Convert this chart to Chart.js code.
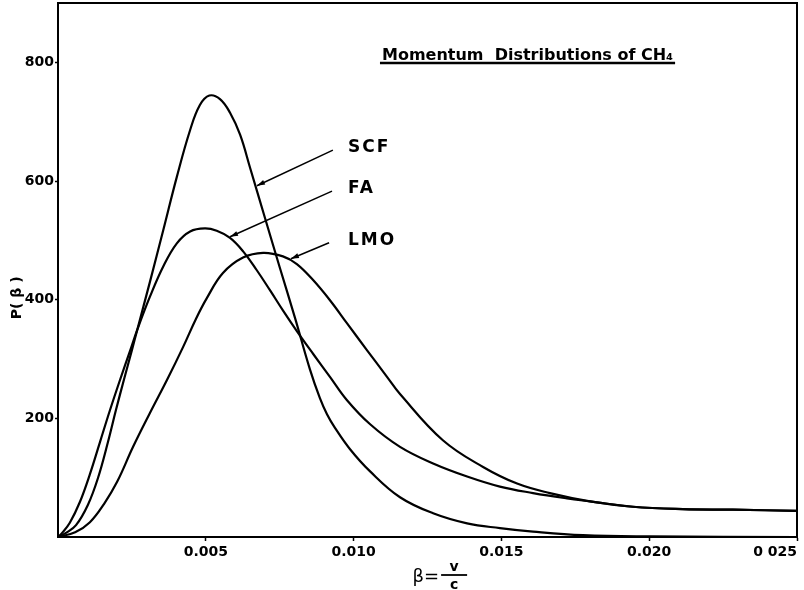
<!DOCTYPE html>
<html>
<head>
<meta charset="utf-8">
<script src="https://cdn.jsdelivr.net/npm/chart.js@4.4.1/dist/chart.umd.min.js"></script>
<style>
  html, body { margin: 0; padding: 0; background: #fff; }
  #wrap { width: 804px; height: 590px; }
</style>
</head>
<body>
<div id="wrap"><canvas id="chart"></canvas></div>
<script>
// Momentum distributions of CH4
const scfBeta = [0, 0.00027, 0.00061, 0.00101, 0.00135, 0.00169, 0.00196, 0.00223, 0.0025, 0.00268, 0.00311, 0.00356, 0.00402, 0.00447, 0.0048, 0.00512, 0.00548, 0.00582, 0.00616, 0.0065, 0.007, 0.00751, 0.00802, 0.00852, 0.00886, 0.0091, 0.00937, 0.00988, 0.01055, 0.01157, 0.01269, 0.01384, 0.01495, 0.01607, 0.01776, 0.02003, 0.025];
const scfP = [0, 7, 20, 54, 99, 160, 214, 265, 315, 349, 430, 517, 607, 686, 728, 744, 738, 715, 678, 622, 538, 453, 369, 283, 234, 207, 184, 148, 111, 67, 40, 23, 15, 9, 3, 1, 0];

const faBeta = [0, 0.00014, 0.0004, 0.00074, 0.00108, 0.00142, 0.00176, 0.0021, 0.00244, 0.00268, 0.00311, 0.00356, 0.00402, 0.00447, 0.00497, 0.00537, 0.00582, 0.00627, 0.00672, 0.00717, 0.00762, 0.00808, 0.00864, 0.0092, 0.00977, 0.01056, 0.01157, 0.01269, 0.01384, 0.01495, 0.01607, 0.01722, 0.018, 0.01945, 0.02114, 0.02283, 0.025];
const faP = [0, 7, 24, 59, 106, 160, 214, 265, 314, 349, 405, 456, 495, 515, 520, 516, 504, 481, 450, 416, 381, 347, 308, 270, 231, 190, 152, 124, 102, 85, 74, 65, 60, 51, 47, 46, 44];

const lmoBeta = [0, 0.00058, 0.00108, 0.00156, 0.002, 0.00254, 0.00311, 0.00369, 0.00423, 0.00467, 0.00504, 0.00558, 0.00626, 0.00694, 0.00761, 0.00808, 0.00863, 0.0092, 0.00978, 0.01045, 0.01113, 0.01157, 0.01302, 0.01438, 0.01553, 0.01664, 0.018, 0.01945, 0.02114, 0.02283, 0.025];
const lmoP = [0, 8, 25, 56, 93, 152, 209, 265, 320, 368, 403, 445, 471, 479, 473, 460, 433, 399, 360, 315, 270, 241, 163, 118, 90, 74, 60, 51, 47, 46, 44];

const xTickValues = [0.005, 0.01, 0.015, 0.02, 0.025];
const xTickLabels = ['0.005', '0.010', '0.015', '0.020', '0 025'];
const yTickValues = [200, 400, 600, 800];
const yTickLabels = ['200', '400', '600', '800'];

// annotation anchors, in data units (beta, P)
const titleAt = [0.01096, 804];
const curveLabels = [
    { text: 'SCF', at: [0.00981, 656], from: [0.0093, 652], tip: [0.00673, 592] },
    { text: 'FA', at: [0.00981, 588], from: [0.00927, 583], tip: [0.00582, 506] },
    { text: 'LMO', at: [0.00981, 499], from: [0.00917, 496], tip: [0.00788, 469] }
];

const ink = '#000';
const family = '"DejaVu Sans", sans-serif';

function toPoints(bs, ps) {
    return bs.map((b, i) => ({ x: b, y: ps[i] }));
}

function arrowLine(ctx, x0, y0, x1, y1) {
    ctx.beginPath();
    ctx.moveTo(x0, y0);
    ctx.lineTo(x1, y1);
    ctx.stroke();
    const a = Math.atan2(y1 - y0, x1 - x0);
    const c = Math.cos(a), s = Math.sin(a);
    ctx.beginPath();
    ctx.moveTo(x1, y1);
    ctx.lineTo(x1 - 8 * c + 2.5 * s, y1 - 8 * s - 2.5 * c);
    ctx.lineTo(x1 - 8 * c - 2.5 * s, y1 - 8 * s + 2.5 * c);
    ctx.closePath();
    ctx.fill();
}

const annotate = {
    id: 'annotate',
    afterDraw(chart) {
        const { ctx, chartArea: area, scales: { x, y } } = chart;
        const px = b => x.getPixelForValue(b);
        const py = v => y.getPixelForValue(v);
        ctx.save();
        ctx.strokeStyle = ink;
        ctx.fillStyle = ink;

        // top and right frame
        ctx.lineWidth = 2;
        ctx.beginPath();
        ctx.moveTo(area.left, area.top);
        ctx.lineTo(area.right, area.top);
        ctx.lineTo(area.right, area.bottom);
        ctx.stroke();

        // underlined title
        ctx.font = 'bold 16px ' + family;
        ctx.textAlign = 'left';
        ctx.textBaseline = 'alphabetic';
        const title = 'Momentum  Distributions of CH₄';
        const tx = px(titleAt[0]), ty = py(titleAt[1]);
        ctx.fillText(title, tx, ty);
        const tw = ctx.measureText(title).width;
        ctx.lineWidth = 2.5;
        ctx.beginPath();
        ctx.moveTo(tx - 2, ty + 3);
        ctx.lineTo(tx + tw + 2, ty + 3);
        ctx.stroke();

        // curve labels with leader arrows
        ctx.font = 'bold 17px ' + family;
        ctx.letterSpacing = '2px';
        ctx.textBaseline = 'middle';
        ctx.lineWidth = 1.5;
        curveLabels.forEach(l => {
            ctx.fillText(l.text, px(l.at[0]), py(l.at[1]));
            arrowLine(ctx, px(l.from[0]), py(l.from[1]), px(l.tip[0]), py(l.tip[1]));
        });
        ctx.letterSpacing = '0px';

        // y axis title
        ctx.save();
        ctx.translate(area.left - 41, py(403));
        ctx.rotate(-Math.PI / 2);
        ctx.font = 'bold 14px ' + family;
        ctx.textAlign = 'center';
        ctx.fillText('P( β )', 0, 0);
        ctx.restore();

        // x axis title: beta = v / c
        const cx = px(0.0134);
        ctx.font = '18px ' + family;
        ctx.textAlign = 'right';
        ctx.textBaseline = 'alphabetic';
        ctx.fillText('β=', cx - 15, area.bottom + 45);
        ctx.font = 'bold 14px ' + family;
        ctx.textAlign = 'center';
        ctx.fillText('v', cx, area.bottom + 34);
        ctx.fillText('c', cx, area.bottom + 52);
        ctx.lineWidth = 1.8;
        ctx.beginPath();
        ctx.moveTo(cx - 13, area.bottom + 38);
        ctx.lineTo(cx + 13, area.bottom + 38);
        ctx.stroke();

        ctx.restore();
    }
};

const lineStyle = {
    borderColor: ink,
    borderWidth: 2.2,
    pointRadius: 0,
    fill: false,
    tension: 0.4
};

new Chart(document.getElementById('chart'), {
    type: 'line',
    data: {
        datasets: [
            { label: 'SCF', data: toPoints(scfBeta, scfP), ...lineStyle },
            { label: 'FA', data: toPoints(faBeta, faP), ...lineStyle },
            { label: 'LMO', data: toPoints(lmoBeta, lmoP), ...lineStyle }
        ]
    },
    options: {
        animation: false,
        responsive: true,
        maintainAspectRatio: false,
        layout: { padding: { top: 3, right: 7, left: 0, bottom: 0 } },
        plugins: { legend: { display: false }, tooltip: { enabled: false } },
        scales: {
            x: {
                type: 'linear',
                min: 0,
                max: 0.025,
                afterBuildTicks: s => { s.ticks = [0].concat(xTickValues).map(v => ({ value: v })); },
                afterFit: s => { s.height = 53; s.paddingLeft = 0; s.paddingRight = 0; },
                border: { color: ink, width: 2 },
                grid: {
                    drawOnChartArea: false,
                    tickLength: 4,
                    tickWidth: 1.5,
                    tickColor: c => (c.tick && c.tick.value === 0) ? 'rgba(0,0,0,0)' : ink
                },
                ticks: {
                    align: 'inner',
                    padding: 3,
                    color: ink,
                    font: { family: family, size: 14, weight: 'bold' },
                    callback: v => {
                        const i = xTickValues.indexOf(v);
                        return i < 0 ? '' : xTickLabels[i];
                    }
                }
            },
            y: {
                type: 'linear',
                min: 0,
                max: 900,
                afterBuildTicks: s => { s.ticks = yTickValues.map(v => ({ value: v })); },
                afterFit: s => { s.width = 58; s.paddingTop = 0; s.paddingBottom = 0; },
                border: { color: ink, width: 2 },
                grid: { drawOnChartArea: false, tickLength: 3, tickWidth: 1.5, tickColor: ink },
                ticks: {
                    padding: 1,
                    color: ink,
                    font: { family: family, size: 14, weight: 'bold' },
                    callback: v => {
                        const i = yTickValues.indexOf(v);
                        return i < 0 ? '' : yTickLabels[i];
                    }
                }
            }
        }
    },
    plugins: [annotate]
});
</script>
</body>
</html>
